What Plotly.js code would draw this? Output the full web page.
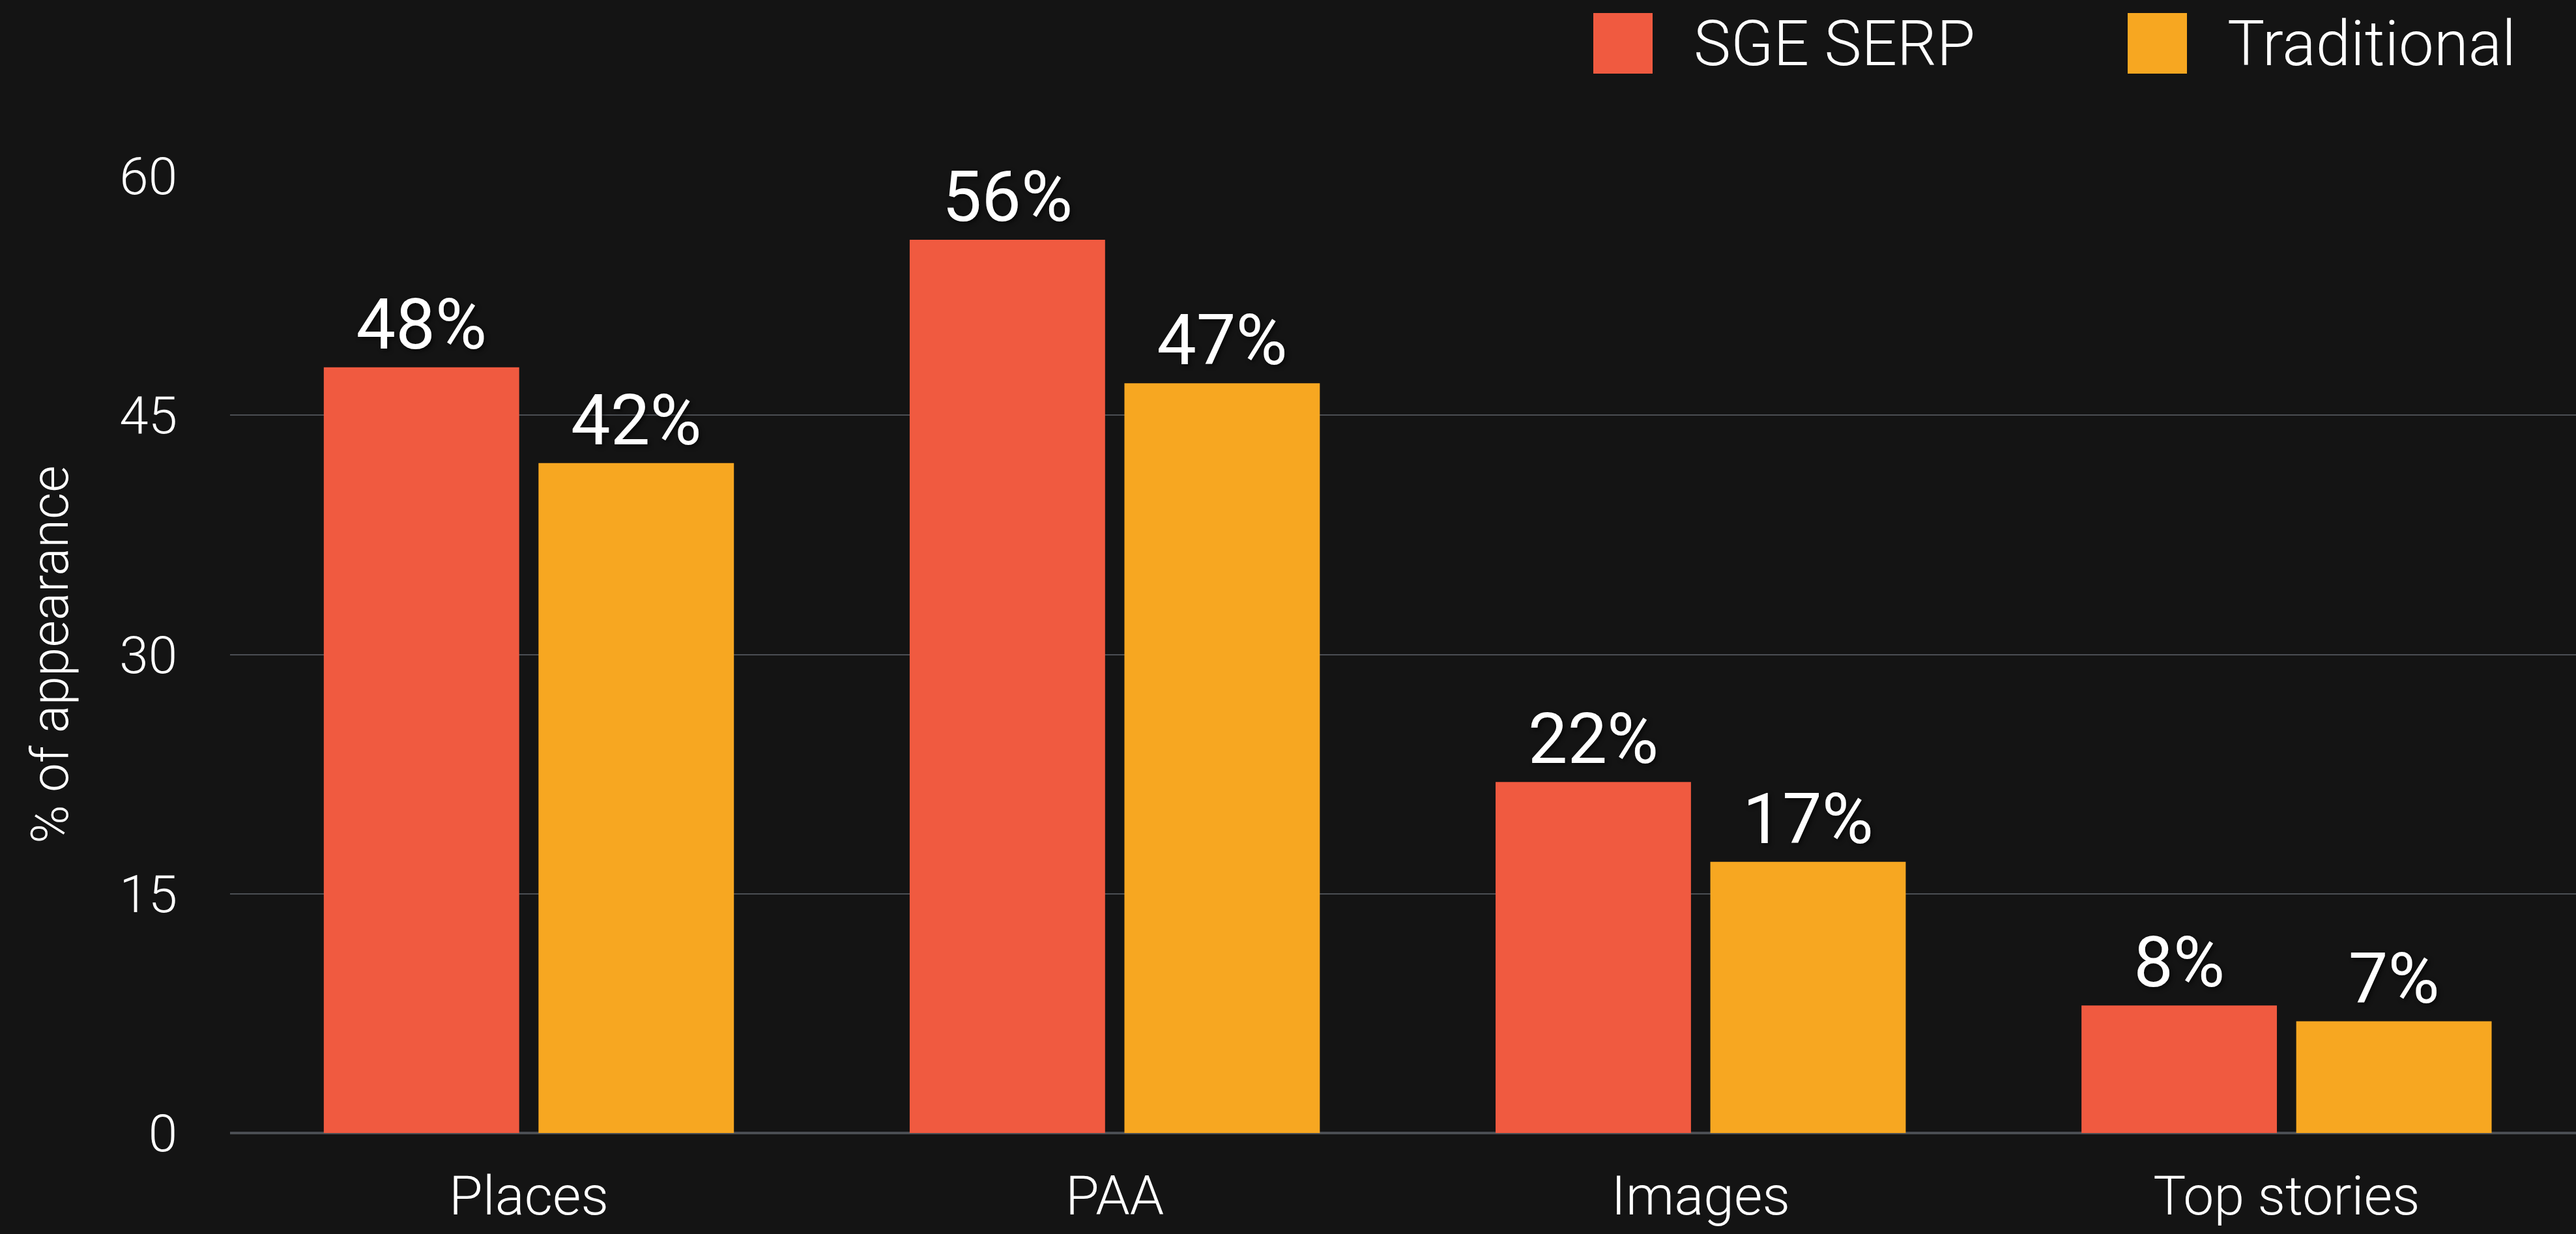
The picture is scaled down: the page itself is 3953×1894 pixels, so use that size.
<!DOCTYPE html>
<html>
<head>
<meta charset="utf-8">
<script src="https://cdn.plot.ly/plotly-3.0.1.min.js"></script>
<style>
  html, body { margin: 0; padding: 0; background: #141414; }
  #chart { width: 3953px; height: 1894px; }
</style>
</head>
<body>
<div id="chart"></div>
<script>
const categories = ["Places", "PAA", "Images", "Top stories"];
const sgeSerp = [48, 56, 22, 8];
const traditional = [42, 47, 17, 7];
const seriesNames = ["SGE SERP", "Traditional"];
const yTicks = [0, 15, 30, 45, 60];

const RED = "#F05A40";
const YELLOW = "#F7A721";
const FONT = "Roboto, 'Open Sans', 'DejaVu Sans', sans-serif";

const labelFont = { family: FONT, size: 108, weight: 400, color: "#ffffff", shadow: "3px 3px 6px rgba(0,0,0,0.6)" };

const traces = [
  {
    type: "bar", name: seriesNames[0], x: categories, y: sgeSerp,
    marker: { color: RED },
    text: sgeSerp.map(v => v + "%"), textposition: "outside",
    textfont: labelFont, cliponaxis: false, hoverinfo: "none"
  },
  {
    type: "bar", name: seriesNames[1], x: categories, y: traditional,
    marker: { color: YELLOW },
    text: traditional.map(v => v + "%"), textposition: "outside",
    textfont: labelFont, cliponaxis: false, hoverinfo: "none"
  }
];

const layout = {
  width: 3953, height: 1894,
  paper_bgcolor: "#141414", plot_bgcolor: "#141414",
  margin: { l: 353, r: 0, t: 270, b: 155 },
  barmode: "group", bargap: 0.267, bargroupgap: 0.09,
  showlegend: false,
  font: { family: FONT, color: "#ffffff", weight: 300 },
  xaxis: {
    type: "category", showgrid: false, zeroline: false, showline: false,
    range: [-0.51, 3.494],
    tickfont: { family: FONT, size: 84, weight: 300, color: "#ffffff" },
    ticks: "", ticklabelstandoff: 40
  },
  yaxis: {
    range: [0, 60], tickvals: yTicks, ticktext: yTicks.map(String),
    showgrid: true, gridcolor: "#4b4e53", gridwidth: 2,
    zeroline: true, zerolinecolor: "#4b4e53", zerolinewidth: 4,
    showline: false, ticks: "",
    tickfont: { family: FONT, size: 80, weight: 300, color: "#ffffff" },
    ticklabelstandoff: 80,
    title: { text: "% of appearance", font: { family: FONT, size: 80, weight: 300, color: "#ffffff" }, standoff: 52 }
  },
  shapes: [
    { type: "rect", xref: "paper", yref: "paper",
      x0: (2445 - 353) / 3600, x1: (2536 - 353) / 3600,
      y0: 1 + (270 - 113) / 1469, y1: 1 + (270 - 20) / 1469,
      fillcolor: RED, line: { width: 0 } },
    { type: "rect", xref: "paper", yref: "paper",
      x0: (3265 - 353) / 3600, x1: (3356 - 353) / 3600,
      y0: 1 + (270 - 113) / 1469, y1: 1 + (270 - 20) / 1469,
      fillcolor: YELLOW, line: { width: 0 } }
  ],
  annotations: [
    { xref: "paper", yref: "paper", x: (2597 - 353) / 3600, y: 1 + (270 - 67) / 1469,
      xanchor: "left", yanchor: "middle", showarrow: false, text: seriesNames[0],
      font: { family: FONT, size: 96, weight: 300, color: "#ffffff" } },
    { xref: "paper", yref: "paper", x: (3416 - 353) / 3600, y: 1 + (270 - 67) / 1469,
      xanchor: "left", yanchor: "middle", showarrow: false, text: seriesNames[1],
      font: { family: FONT, size: 96, weight: 300, color: "#ffffff" } }
  ]
};

Plotly.newPlot("chart", traces, layout, { staticPlot: true, displayModeBar: false });
</script>
</body>
</html>
